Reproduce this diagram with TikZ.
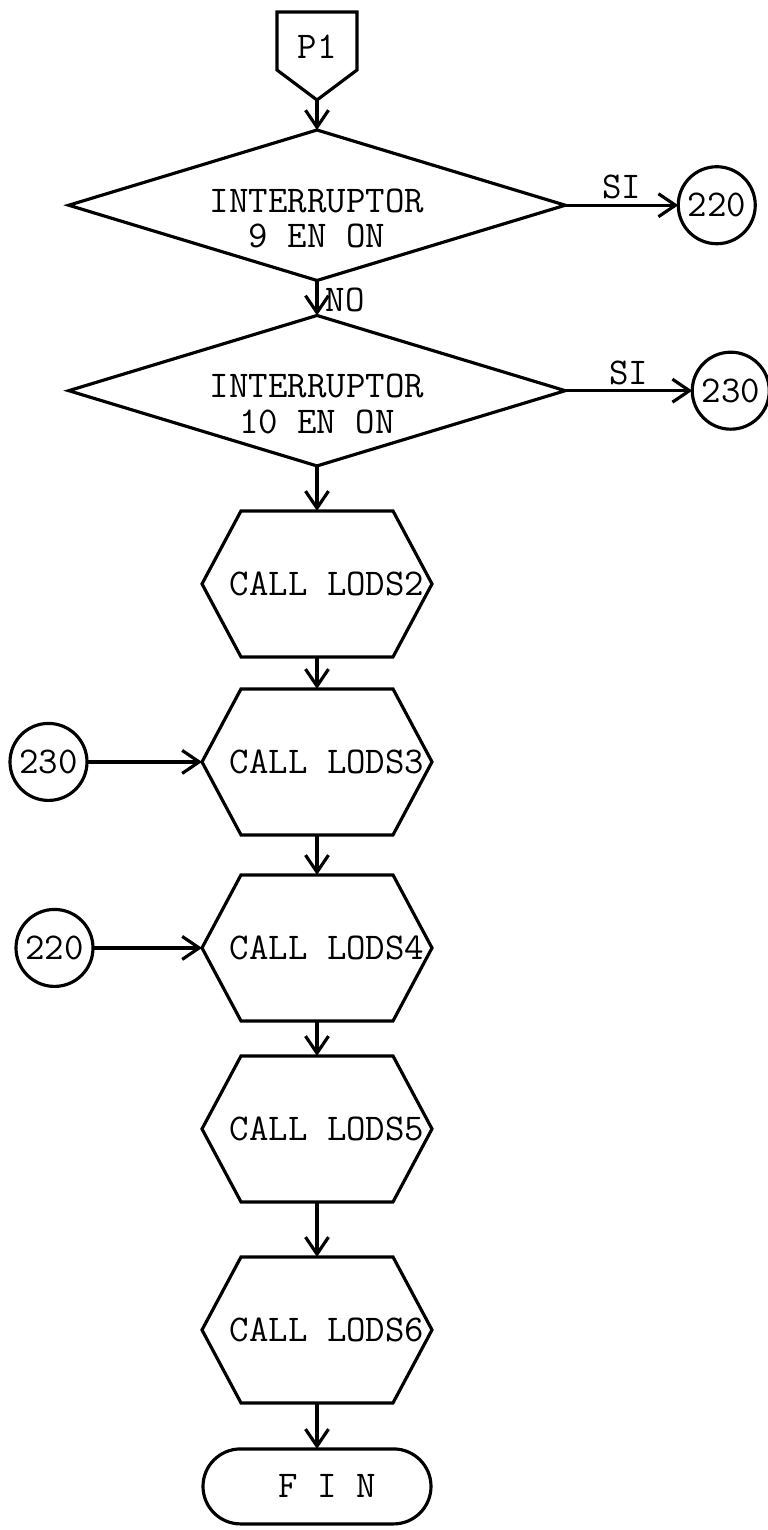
\documentclass[tikz,border=0pt]{standalone}
\usepackage{tikz}
\usetikzlibrary{shapes.geometric, arrows.meta, positioning}

\begin{document}
\begin{tikzpicture}[
  font=\ttfamily\fontsize{21.5}{20}\selectfont,
  line width=1.8pt,
  outer sep=0pt,
  node distance=0.7cm and 2.3cm,
  entry/.style={rectangle, minimum width=1.6cm, minimum height=1.16cm, inner sep=0pt, text height=0.72cm},
  decision/.style={diamond, draw, aspect=3.3, inner sep=0pt, align=center,
                   minimum width=9.9cm, minimum height=2.96cm},
  callbox/.style={rectangle, inner sep=0pt, minimum width=4.6cm, minimum height=2.92cm,
                  execute at begin node=\hspace*{0.4cm}},
  ref/.style={circle, draw, inner sep=0pt, minimum size=1.54cm},
  endbox/.style={rectangle, draw, rounded corners=0.75cm, minimum width=4.56cm, minimum height=1.5cm,
                 execute at begin node=\hspace*{0.4cm}},
  arr/.style={-{Straight Barb[length=3.4mm,width=4.6mm]}},
  lbl/.style={inner sep=5pt}
]
\useasboundingbox (0,0) rectangle (15.36,-30.6);

% ---- entry point ----
\node[entry] (p1) at (6.34,-0.82) {P1};
\coordinate (p1tip) at ([yshift=-0.6cm]p1.south);
\draw (p1.north west) -- (p1.north east) -- (p1.south east) -- (p1tip) -- (p1.south west) -- cycle;

% ---- switch tests ----
\node[decision, below=0.6cm of p1tip] (sw9) {\rule{0pt}{1cm}INTERRUPTOR\\9 EN ON};
\node[decision, below=0.7cm of sw9] (sw10) {\rule{0pt}{1cm}INTERRUPTOR\\10 EN ON};
\node[ref, right=2.26cm of sw9] (go220) {220};
\node[ref, right=2.54cm of sw10] (go230) {230};

\draw[arr] (p1tip) -- (sw9);
\draw[arr] (sw9) -- node[lbl, pos=0.55, right] {NO} (sw10);
\draw[arr] (sw9.east) -- node[above] {SI} (go220);
\draw[arr] (sw10.east) -- node[above] {SI} (go230);

% ---- calls ----
\node[callbox, below=0.9cm of sw10] (lods2) {CALL LODS2};
\node[callbox, below=0.64cm of lods2] (lods3) {CALL LODS3};
\node[callbox, below=0.8cm of lods3] (lods4) {CALL LODS4};
\node[callbox, below=0.7cm of lods4] (lods5) {CALL LODS5};
\node[callbox, below=1.1cm of lods5] (lods6) {CALL LODS6};
\node[endbox, below=0.92cm of lods6] (fin) {F I N};

\foreach \h in {lods2,lods3,lods4,lods5,lods6}
  \draw (\h.west) -- ([xshift=0.78cm]\h.north west) -- ([xshift=-0.78cm]\h.north east)
        -- (\h.east) -- ([xshift=-0.78cm]\h.south east) -- ([xshift=0.78cm]\h.south west) -- cycle;

\node[ref, left=2.3cm of lods3] (in230) {230};
\node[ref, left=2.18cm of lods4] (in220) {220};

\draw[arr] (sw10) -- (lods2);
\draw[arr] (lods2) -- (lods3);
\draw[arr] (lods3) -- (lods4);
\draw[arr] (lods4) -- (lods5);
\draw[arr] (lods5) -- (lods6);
\draw[arr] (lods6) -- (fin);
\draw[arr] (in230) -- (lods3.west);
\draw[arr] (in220) -- (lods4.west);

\end{tikzpicture}
\end{document}
